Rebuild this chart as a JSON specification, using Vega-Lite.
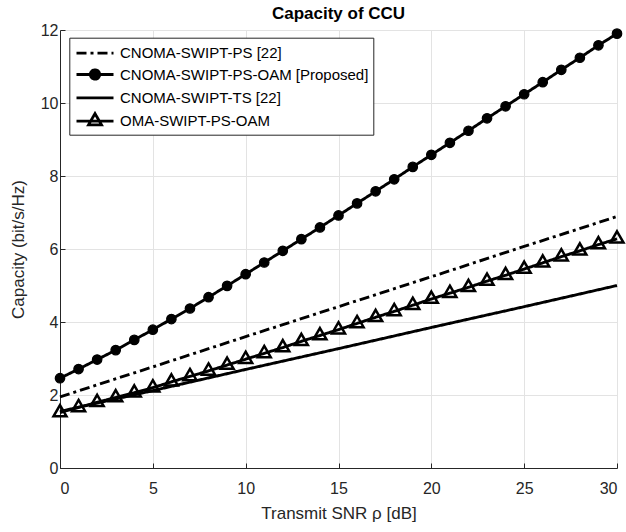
{
  "$schema": "https://vega.github.io/schema/vega-lite/v6.json",
  "width": 557,
  "height": 438,
  "autosize": {"type": "none"},
  "padding": {"left": 60, "top": 30, "right": 9, "bottom": 64},
  "background": "white",
  "title": {"text": "Capacity of CCU", "font": "Liberation Sans", "fontSize": 17, "fontWeight": "bold", "color": "black", "anchor": "middle", "offset": -1},
  "config": {
    "font": "Liberation Sans",
    "view": {"stroke": null},
    "axis": {
      "labelFont": "Liberation Sans", "labelFontSize": 16, "labelColor": "#262626",
      "titleFont": "Liberation Sans", "titleFontSize": 17, "titleColor": "#262626", "titleFontWeight": "normal",
      "domainColor": "#262626", "domainWidth": 1, "tickColor": "#262626", "tickSize": -5,
      "gridColor": "#e3e3e3", "gridWidth": 1
    },
    "legend": {
      "orient": "none", "strokeColor": "#262626", "fillColor": "white", "padding": 4,
      "labelFont": "Liberation Sans", "labelFontSize": 15, "labelColor": "black", "labelLimit": 400,
      "symbolSize": 400, "labelOffset": 23.7, "rowPadding": 1.3,
      "symbolOpacity": 1, "symbolStrokeWidth": 2.8
    }
  },
  "datasets": {
    "main": [
      {"x": 0, "y": 1.95, "s": "CNOMA-SWIPT-PS [22]"},
      {"x": 5, "y": 2.77, "s": "CNOMA-SWIPT-PS [22]"},
      {"x": 10, "y": 3.6, "s": "CNOMA-SWIPT-PS [22]"},
      {"x": 15, "y": 4.42, "s": "CNOMA-SWIPT-PS [22]"},
      {"x": 20, "y": 5.24, "s": "CNOMA-SWIPT-PS [22]"},
      {"x": 25, "y": 6.07, "s": "CNOMA-SWIPT-PS [22]"},
      {"x": 30, "y": 6.89, "s": "CNOMA-SWIPT-PS [22]"},
      {"x": 0, "y": 2.46, "s": "CNOMA-SWIPT-PS-OAM [Proposed]"},
      {"x": 1, "y": 2.71, "s": "CNOMA-SWIPT-PS-OAM [Proposed]"},
      {"x": 2, "y": 2.97, "s": "CNOMA-SWIPT-PS-OAM [Proposed]"},
      {"x": 3, "y": 3.23, "s": "CNOMA-SWIPT-PS-OAM [Proposed]"},
      {"x": 4, "y": 3.51, "s": "CNOMA-SWIPT-PS-OAM [Proposed]"},
      {"x": 5, "y": 3.79, "s": "CNOMA-SWIPT-PS-OAM [Proposed]"},
      {"x": 6, "y": 4.08, "s": "CNOMA-SWIPT-PS-OAM [Proposed]"},
      {"x": 7, "y": 4.37, "s": "CNOMA-SWIPT-PS-OAM [Proposed]"},
      {"x": 8, "y": 4.68, "s": "CNOMA-SWIPT-PS-OAM [Proposed]"},
      {"x": 9, "y": 4.99, "s": "CNOMA-SWIPT-PS-OAM [Proposed]"},
      {"x": 10, "y": 5.31, "s": "CNOMA-SWIPT-PS-OAM [Proposed]"},
      {"x": 11, "y": 5.63, "s": "CNOMA-SWIPT-PS-OAM [Proposed]"},
      {"x": 12, "y": 5.95, "s": "CNOMA-SWIPT-PS-OAM [Proposed]"},
      {"x": 13, "y": 6.27, "s": "CNOMA-SWIPT-PS-OAM [Proposed]"},
      {"x": 14, "y": 6.59, "s": "CNOMA-SWIPT-PS-OAM [Proposed]"},
      {"x": 15, "y": 6.92, "s": "CNOMA-SWIPT-PS-OAM [Proposed]"},
      {"x": 16, "y": 7.25, "s": "CNOMA-SWIPT-PS-OAM [Proposed]"},
      {"x": 17, "y": 7.58, "s": "CNOMA-SWIPT-PS-OAM [Proposed]"},
      {"x": 18, "y": 7.91, "s": "CNOMA-SWIPT-PS-OAM [Proposed]"},
      {"x": 19, "y": 8.25, "s": "CNOMA-SWIPT-PS-OAM [Proposed]"},
      {"x": 20, "y": 8.58, "s": "CNOMA-SWIPT-PS-OAM [Proposed]"},
      {"x": 21, "y": 8.91, "s": "CNOMA-SWIPT-PS-OAM [Proposed]"},
      {"x": 22, "y": 9.24, "s": "CNOMA-SWIPT-PS-OAM [Proposed]"},
      {"x": 23, "y": 9.58, "s": "CNOMA-SWIPT-PS-OAM [Proposed]"},
      {"x": 24, "y": 9.91, "s": "CNOMA-SWIPT-PS-OAM [Proposed]"},
      {"x": 25, "y": 10.24, "s": "CNOMA-SWIPT-PS-OAM [Proposed]"},
      {"x": 26, "y": 10.57, "s": "CNOMA-SWIPT-PS-OAM [Proposed]"},
      {"x": 27, "y": 10.91, "s": "CNOMA-SWIPT-PS-OAM [Proposed]"},
      {"x": 28, "y": 11.24, "s": "CNOMA-SWIPT-PS-OAM [Proposed]"},
      {"x": 29, "y": 11.58, "s": "CNOMA-SWIPT-PS-OAM [Proposed]"},
      {"x": 30, "y": 11.9, "s": "CNOMA-SWIPT-PS-OAM [Proposed]"},
      {"x": 0, "y": 1.55, "s": "CNOMA-SWIPT-TS [22]"},
      {"x": 5, "y": 2.12, "s": "CNOMA-SWIPT-TS [22]"},
      {"x": 10, "y": 2.7, "s": "CNOMA-SWIPT-TS [22]"},
      {"x": 15, "y": 3.27, "s": "CNOMA-SWIPT-TS [22]"},
      {"x": 20, "y": 3.85, "s": "CNOMA-SWIPT-TS [22]"},
      {"x": 25, "y": 4.42, "s": "CNOMA-SWIPT-TS [22]"},
      {"x": 30, "y": 5.0, "s": "CNOMA-SWIPT-TS [22]"},
      {"x": 0, "y": 1.52, "s": "OMA-SWIPT-PS-OAM"},
      {"x": 1, "y": 1.66, "s": "OMA-SWIPT-PS-OAM"},
      {"x": 2, "y": 1.8, "s": "OMA-SWIPT-PS-OAM"},
      {"x": 3, "y": 1.93, "s": "OMA-SWIPT-PS-OAM"},
      {"x": 4, "y": 2.06, "s": "OMA-SWIPT-PS-OAM"},
      {"x": 5, "y": 2.2, "s": "OMA-SWIPT-PS-OAM"},
      {"x": 6, "y": 2.36, "s": "OMA-SWIPT-PS-OAM"},
      {"x": 7, "y": 2.51, "s": "OMA-SWIPT-PS-OAM"},
      {"x": 8, "y": 2.66, "s": "OMA-SWIPT-PS-OAM"},
      {"x": 9, "y": 2.82, "s": "OMA-SWIPT-PS-OAM"},
      {"x": 10, "y": 2.98, "s": "OMA-SWIPT-PS-OAM"},
      {"x": 11, "y": 3.14, "s": "OMA-SWIPT-PS-OAM"},
      {"x": 12, "y": 3.3, "s": "OMA-SWIPT-PS-OAM"},
      {"x": 13, "y": 3.47, "s": "OMA-SWIPT-PS-OAM"},
      {"x": 14, "y": 3.63, "s": "OMA-SWIPT-PS-OAM"},
      {"x": 15, "y": 3.79, "s": "OMA-SWIPT-PS-OAM"},
      {"x": 16, "y": 3.96, "s": "OMA-SWIPT-PS-OAM"},
      {"x": 17, "y": 4.13, "s": "OMA-SWIPT-PS-OAM"},
      {"x": 18, "y": 4.29, "s": "OMA-SWIPT-PS-OAM"},
      {"x": 19, "y": 4.46, "s": "OMA-SWIPT-PS-OAM"},
      {"x": 20, "y": 4.63, "s": "OMA-SWIPT-PS-OAM"},
      {"x": 21, "y": 4.79, "s": "OMA-SWIPT-PS-OAM"},
      {"x": 22, "y": 4.95, "s": "OMA-SWIPT-PS-OAM"},
      {"x": 23, "y": 5.12, "s": "OMA-SWIPT-PS-OAM"},
      {"x": 24, "y": 5.28, "s": "OMA-SWIPT-PS-OAM"},
      {"x": 25, "y": 5.45, "s": "OMA-SWIPT-PS-OAM"},
      {"x": 26, "y": 5.62, "s": "OMA-SWIPT-PS-OAM"},
      {"x": 27, "y": 5.79, "s": "OMA-SWIPT-PS-OAM"},
      {"x": 28, "y": 5.95, "s": "OMA-SWIPT-PS-OAM"},
      {"x": 29, "y": 6.12, "s": "OMA-SWIPT-PS-OAM"},
      {"x": 30, "y": 6.28, "s": "OMA-SWIPT-PS-OAM"}
    ]
  },
  "data": {"name": "main"},
  "encoding": {
    "x": {"field": "x", "type": "quantitative", "scale": {"domain": [0, 30], "nice": false},
      "axis": {"values": [0, 5, 10, 15, 20, 25, 30], "title": "Transmit SNR  ρ [dB]", "labelPadding": 17, "titlePadding": 9}},
    "y": {"field": "y", "type": "quantitative", "scale": {"domain": [0, 12], "nice": false},
      "axis": {"values": [0, 2, 4, 6, 8, 10, 12], "title": "Capacity (bit/s/Hz)", "labelPadding": 7, "titlePadding": 13}}
  },
  "layer": [
    {
      "mark": {"type": "line", "color": "black", "strokeWidth": 2.9},
      "encoding": {
        "strokeDash": {
          "field": "s", "type": "nominal",
          "scale": {"domain": ["CNOMA-SWIPT-PS [22]", "CNOMA-SWIPT-PS-OAM [Proposed]", "CNOMA-SWIPT-TS [22]", "OMA-SWIPT-PS-OAM"],
                    "range": [[10, 4, 3, 4], [1, 0], [1, 0], [1, 0]]},
          "legend": {"title": null, "orient": "none", "legendX": 9.3, "legendY": 7.7}
        }
      }
    },
    {
      "mark": {"type": "point", "filled": false, "strokeWidth": 2.8, "opacity": 0},
      "encoding": {
        "shape": {
          "field": "s", "type": "nominal",
          "scale": {"domain": ["CNOMA-SWIPT-PS [22]", "CNOMA-SWIPT-PS-OAM [Proposed]", "CNOMA-SWIPT-TS [22]", "OMA-SWIPT-PS-OAM"],
                    "range": ["M-0.83,0H2.87", "M-0.83,0H2.87M1.49,0A0.47,0.47,0,1,1,0.55,0A0.47,0.47,0,1,1,1.49,0Z", "M-0.83,0H2.87", "M-0.83,0H2.87M1.02,-0.75L1.67,0.375L0.37,0.375Z"]},
          "legend": {"title": null, "orient": "none", "legendX": 9.3, "legendY": 7.7}
        },
        "fill": {
          "field": "s", "type": "nominal",
          "scale": {"domain": ["CNOMA-SWIPT-PS [22]", "CNOMA-SWIPT-PS-OAM [Proposed]", "CNOMA-SWIPT-TS [22]", "OMA-SWIPT-PS-OAM"],
                    "range": ["transparent", "black", "transparent", "transparent"]},
          "legend": {"title": null, "orient": "none", "legendX": 9.3, "legendY": 7.7}
        },
        "stroke": {
          "field": "s", "type": "nominal",
          "scale": {"domain": ["CNOMA-SWIPT-PS [22]", "CNOMA-SWIPT-PS-OAM [Proposed]", "CNOMA-SWIPT-TS [22]", "OMA-SWIPT-PS-OAM"],
                    "range": ["black", "black", "black", "black"]},
          "legend": {"title": null, "orient": "none", "legendX": 9.3, "legendY": 7.7}
        },
        "strokeDash": {
          "field": "s", "type": "nominal",
          "legend": {"title": null, "orient": "none", "legendX": 9.3, "legendY": 7.7}
        }
      }
    },
    {
      "transform": [{"filter": "datum.s === 'CNOMA-SWIPT-PS-OAM [Proposed]'"}],
      "mark": {"type": "point", "shape": "circle", "filled": true, "color": "black", "size": 90, "strokeWidth": 1.2, "stroke": "black", "opacity": 1}
    },
    {
      "transform": [{"filter": "datum.s === 'OMA-SWIPT-PS-OAM'"}],
      "mark": {"type": "point", "shape": "M0,-1L0.866,0.5L-0.866,0.5Z", "filled": false, "stroke": "black", "strokeWidth": 2.5, "size": 225, "opacity": 1}
    }
  ]
}
